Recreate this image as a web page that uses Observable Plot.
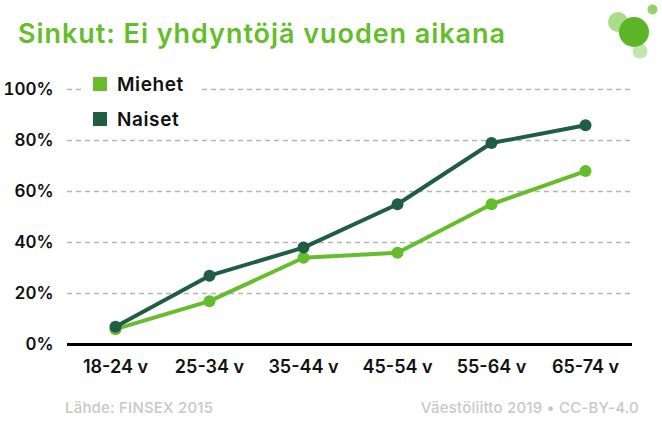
<!DOCTYPE html>
<html>
<head>
<meta charset="utf-8">
<script src="https://cdn.jsdelivr.net/npm/d3@7"></script>
<script src="https://cdn.jsdelivr.net/npm/@observablehq/plot@0.6"></script>
<style>
  body { margin: 0; background: #fff; font-family: Inter, "Open Sans", sans-serif; }
  #wrap { position: relative; width: 662px; height: 440px; overflow: hidden; }
  #title { position: absolute; left: 18px; top: 17px; font-size: 27px; font-weight: 600; color: #66bd2c; letter-spacing: 0.95px; white-space: nowrap; }
  #chart { position: absolute; left: 0; top: 60px; }
  #legend { position: absolute; left: 82px; top: 68px; width: 116px; height: 64px; background: #fff; }
  .li { position: absolute; left: 11px; height: 16px; display: flex; align-items: center; font-size: 19px; font-weight: 600; color: #111; letter-spacing: 0.6px; }
  .sw { width: 14px; height: 14px; margin-right: 10px; }
  .foot { position: absolute; top: 398px; font-size: 15px; font-weight: 500; color: #c8c8c8; white-space: nowrap; letter-spacing: 0.2px; }
  #logo { position: absolute; left: 590px; top: 0; }
</style>
</head>
<body>
<div id="wrap">
  <div id="title">Sinkut: Ei yhdyntöjä vuoden aikana</div>
  <svg id="logo" width="72" height="65">
    <circle cx="28" cy="22" r="10" fill="#66bd2c" fill-opacity="0.55"></circle>
    <circle cx="44" cy="32" r="15" fill="#5cb526"></circle>
    <circle cx="50" cy="51" r="7.5" fill="#66bd2c" fill-opacity="0.4"></circle>
    <circle cx="62.5" cy="9.5" r="5" fill="#66bd2c" fill-opacity="0.7"></circle>
  </svg>
  <div id="chart"></div>
  <div id="legend"></div>
  <div class="foot" style="left:65px">Lähde: FINSEX 2015</div>
  <div class="foot" style="right:23px">Väestöliitto 2019 • CC-BY-4.0</div>
</div>
<script>
const ages = ["18-24 v", "25-34 v", "35-44 v", "45-54 v", "55-64 v", "65-74 v"];
const miehet = [6, 17, 34, 36, 55, 68];
const naiset = [7, 27, 38, 55, 79, 86];
const seriesNames = ["Miehet", "Naiset"];
const seriesColors = ["#66bd2c", "#1f5e42"];
const yTicks = [0, 20, 40, 60, 80, 100];

const data = [
  ...ages.map((a, i) => ({age: a, value: miehet[i], series: "Miehet"})),
  ...ages.map((a, i) => ({age: a, value: naiset[i], series: "Naiset"}))
];

const chart = Plot.plot({
  width: 662,
  height: 330,
  marginTop: 29,
  marginBottom: 46,
  marginLeft: 67,
  marginRight: 30,
  style: {fontFamily: "Inter, 'Open Sans', sans-serif", fontSize: "16px", color: "#111", background: "transparent"},
  x: {type: "point", domain: ages, padding: 0.5, label: null},
  y: {domain: [0, 100], label: null},
  color: {domain: seriesNames, range: seriesColors},
  marks: [
    Plot.gridY(yTicks.filter(d => d > 0), {stroke: "#b5b5b5", strokeOpacity: 1, strokeWidth: 1.5, strokeDasharray: "5,4"}),
    Plot.axisY(yTicks, {tickSize: 0, tickPadding: 14, tickFormat: d => d + "%", fontWeight: 600, fontSize: 17, label: null}),
    Plot.axisX({tickSize: 0, tickPadding: 16, fontWeight: 600, fontSize: 18, label: null, style: "letter-spacing:0.7px"}),
    Plot.ruleY([0], {stroke: "#000", strokeWidth: 3}),
    Plot.line(data, {x: "age", y: "value", z: "series", stroke: "series", strokeWidth: 4}),
    Plot.dot(data, {x: "age", y: "value", fill: "series", r: 6})
  ]
});
document.getElementById("chart").appendChild(chart);

const legend = document.getElementById("legend");
seriesNames.forEach((n, i) => {
  const d = document.createElement("div");
  d.className = "li";
  d.style.top = (8 + i * 35) + "px";
  d.innerHTML = `<span class="sw" style="background:${seriesColors[i]}"></span>${n}`;
  legend.appendChild(d);
});
</script>
</body>
</html>
